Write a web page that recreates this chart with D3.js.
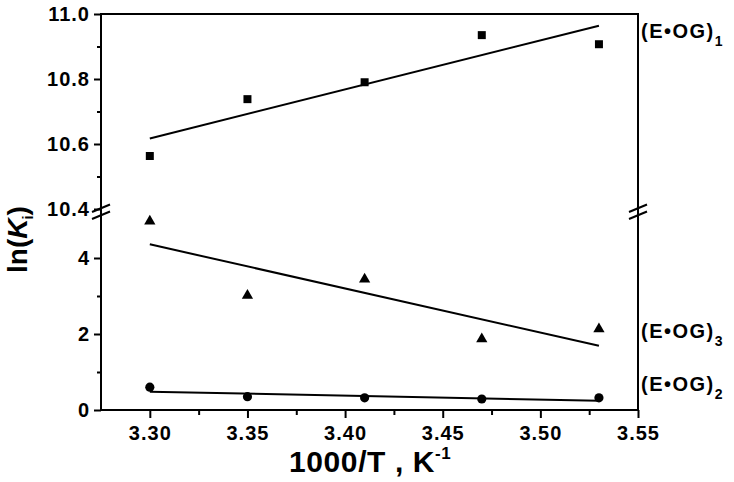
<!DOCTYPE html>
<html lang="en">
<head>
<meta charset="UTF-8">
<title>ln(Ki) vs 1000/T</title>
<script src="https://cdn.jsdelivr.net/npm/d3@7/dist/d3.min.js"></script>
<style>
    body { margin: 0; background: #fff; }
    svg text { font-family: "Liberation Sans", Arial, sans-serif; font-weight: bold; fill: #000; }
</style>
</head>
<body>
<svg width="734" height="482"></svg>
<script>
    // data
    var temps = [3.30, 3.35, 3.41, 3.47, 3.53];
    var og1 = [10.563, 10.738, 10.790, 10.935, 10.907];   // squares, upper panel
    var og3 = [4.97, 3.01, 3.44, 1.87, 2.13];              // triangles
    var og2 = [0.60, 0.35, 0.32, 0.29, 0.32];              // circles
    var fitX = [3.30, 3.53];
    var fit1 = [10.617, 10.964];
    var fit3 = [4.36, 1.69];
    var fit2 = [0.48, 0.245];
    var xTicks = [3.30, 3.35, 3.40, 3.45, 3.50, 3.55];
    var xMinor = [3.325, 3.375, 3.425, 3.475, 3.525];
    var topTicks = [10.4, 10.6, 10.8, 11.0];
    var topMinor = [10.5, 10.7, 10.9];
    var botTicks = [0, 2, 4];
    var botMinor = [1, 3];

    var plotL = 101, plotR = 638, plotT = 14, plotB = 410;
    var svg = d3.select("svg");

    var x = d3.scaleLinear().domain([3.275, 3.55]).range([plotL, plotR]);
    var yTop = d3.scaleLinear().domain([10.4, 11.0]).range([209, plotT]);
    var yBot = d3.scaleLinear().domain([0, 5]).range([plotB, 220]);

    // axes (ticks only, the frame is drawn separately)
    function styleAxis(g) {
        g.select(".domain").remove();
        g.selectAll("line").attr("stroke", "#000").attr("stroke-width", 2);
        g.selectAll("text").style("font-size", "20px").style("letter-spacing", "1px").attr("fill", "#000");
    }
    svg.append("g").attr("transform", "translate(" + plotL + ",0)")
        .call(d3.axisLeft(yTop).tickValues(topTicks).tickFormat(d3.format(".1f")).tickSize(7).tickPadding(4))
        .call(styleAxis);
    svg.append("g").attr("transform", "translate(" + plotL + ",0)")
        .call(d3.axisLeft(yTop).tickValues(topMinor).tickFormat("").tickSize(4))
        .call(styleAxis);
    svg.append("g").attr("transform", "translate(" + plotL + ",0)")
        .call(d3.axisLeft(yBot).tickValues(botTicks).tickFormat(d3.format("d")).tickSize(7).tickPadding(4))
        .call(styleAxis);
    svg.append("g").attr("transform", "translate(" + plotL + ",0)")
        .call(d3.axisLeft(yBot).tickValues(botMinor).tickFormat("").tickSize(4))
        .call(styleAxis);
    svg.append("g").attr("transform", "translate(0," + plotB + ")")
        .call(d3.axisBottom(x).tickValues(xTicks).tickFormat(d3.format(".2f")).tickSize(8).tickPadding(8))
        .call(styleAxis);
    svg.append("g").attr("transform", "translate(0," + plotB + ")")
        .call(d3.axisBottom(x).tickValues(xMinor).tickFormat("").tickSize(5))
        .call(styleAxis);

    // frame
    svg.append("rect")
        .attr("x", plotL).attr("y", plotT)
        .attr("width", plotR - plotL).attr("height", plotB - plotT)
        .attr("fill", "none").attr("stroke", "#000").attr("stroke-width", 2);

    // axis break marks
    [plotL, plotR].forEach(function (bx) {
        [0, 7].forEach(function (off) {
            svg.append("line")
                .attr("x1", bx - 9).attr("y1", 212 + off)
                .attr("x2", bx + 9).attr("y2", 204.5 + off)
                .attr("stroke", "#000").attr("stroke-width", 2);
        });
    });

    // fit lines
    var line = function (ys, sc) {
        return d3.line().x(function (d, i) { return x(fitX[i]); }).y(function (d) { return sc(d); })(ys);
    };
    [[fit1, yTop], [fit3, yBot], [fit2, yBot]].forEach(function (p) {
        svg.append("path").attr("d", line(p[0], p[1]))
            .attr("fill", "none").attr("stroke", "#000").attr("stroke-width", 2);
    });

    // markers
    function points(vals, sc, type, size) {
        svg.append("g").selectAll("path").data(vals).enter().append("path")
            .attr("transform", function (d, i) { return "translate(" + x(temps[i]) + "," + sc(d) + ")"; })
            .attr("d", d3.symbol().type(type).size(size))
            .attr("fill", "#000");
    }
    points(og1, yTop, d3.symbolSquare, 64);
    points(og3, yBot, d3.symbolTriangle, 55);
    points(og2, yBot, d3.symbolCircle, 66);

    // series labels
    function label(xp, yp, sub) {
        var t = svg.append("text").attr("x", xp).attr("y", yp)
            .style("font-size", "20px").style("letter-spacing", "1.5px");
        t.append("tspan").text("(E\u2022OG)");
        t.append("tspan").attr("dy", 8).style("font-size", "14px").text(sub);
    }
    label(641, 38, "1");
    label(641, 338, "3");
    label(641, 391, "2");

    // x title
    var xt = svg.append("text").attr("x", 289).attr("y", 472)
        .style("font-size", "30px").style("letter-spacing", "0.6px");
    xt.append("tspan").text("1000/T , K");
    xt.append("tspan").attr("dy", -13).style("font-size", "17px").text("-1");

    // y title
    var yt = svg.append("text")
        .attr("transform", "translate(27,273) rotate(-90)")
        .style("font-size", "28px");
    yt.append("tspan").text("ln(");
    yt.append("tspan").style("font-style", "italic").text("K");
    yt.append("tspan").attr("dy", 6).attr("dx", -1).style("font-size", "15px").text("i");
    yt.append("tspan").attr("dy", -6).text(")");
</script>
</body>
</html>
